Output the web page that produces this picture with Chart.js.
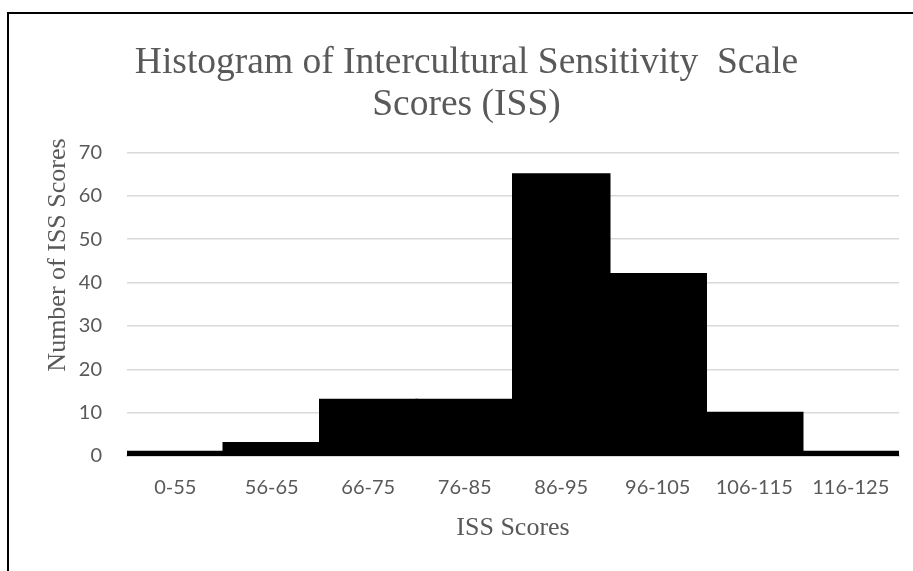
<!DOCTYPE html>
<html>
<head>
<meta charset="utf-8">
<script src="https://cdn.jsdelivr.net/npm/chart.js@4/dist/chart.umd.min.js"></script>
<style>
  body { margin: 0; background: #fff; overflow: hidden; }
  #frame {
    position: absolute; left: 7px; top: 12px; right: 0; bottom: 0;
    border-left: 2px solid #000; border-top: 2px solid #000;
  }
  #wrap { position: absolute; left: 0; top: 0; width: 913px; height: 571px; }
</style>
</head>
<body>
<div id="frame"></div>
<div id="wrap"><canvas id="issChart"></canvas></div>
<script>
// bins and counts
let scoreBins = ["0-55", "56-65", "66-75", "76-85", "86-95", "96-105", "106-115", "116-125"];
let binCounts = [1, 3, 13, 13, 65, 42, 10, 1];
let yTicks = [0, 10, 20, 30, 40, 50, 60, 70];

let yTitle = "Number of ISS Scores";
let grey = "#595959";
let serif = "'Liberation Serif', 'Times New Roman', serif";
let sans = "Lato, Calibri, 'Open Sans', sans-serif";

/* y axis title sits off-centre in the original, so draw it by hand */
let yTitlePlugin = {
    id: "yTitle",
    afterDraw(chart) {
        let c = chart.ctx;
        c.save();
        c.translate(65, 255);
        c.rotate(-Math.PI / 2);
        c.font = "26px " + serif;
        c.fillStyle = grey;
        c.textAlign = "center";
        c.textBaseline = "alphabetic";
        c.fillText(yTitle, 0, 0);
        c.restore();
    }
};

let ctx = document.getElementById("issChart").getContext("2d");

let chart = new Chart(ctx, {
    type: "bar",
    data: {
        labels: scoreBins,
        datasets: [{
            data: binCounts,
            backgroundColor: "#000",
            borderWidth: 0,
            inflateAmount: 1,
            barPercentage: 1,
            categoryPercentage: 1
        }]
    },
    options: {
        responsive: true,
        maintainAspectRatio: false,
        animation: false,
        layout: { padding: { left: 34, right: 14, top: 0, bottom: 0 } },
        plugins: {
            legend: { display: false },
            tooltip: { enabled: false },
            title: {
                display: true,
                text: ["Histogram of Intercultural Sensitivity  Scale", "Scores (ISS)"],
                color: grey,
                font: { family: serif, size: 37.5, weight: "normal", lineHeight: 1.1 },
                padding: { top: 43, bottom: 27 }
            }
        },
        scales: {
            x: {
                afterFit: axis => { axis.height = 115; },
                grid: { display: false, drawTicks: false },
                border: { color: "#d9d9d9", width: 2 },
                ticks: { color: grey, font: { family: sans, size: 20 }, padding: 20 },
                title: {
                    display: true,
                    text: "ISS Scores",
                    color: grey,
                    font: { family: serif, size: 26 },
                    padding: { top: 0, bottom: 27 }
                }
            },
            y: {
                min: 0,
                max: 70,
                afterFit: axis => { axis.width = 93; },
                afterBuildTicks: axis => { axis.ticks = yTicks.map(v => ({ value: v })); },
                grid: { color: "#d9d9d9", lineWidth: 1.5, drawTicks: false },
                border: { display: false },
                ticks: { color: grey, font: { family: sans, size: 20 }, padding: 25 }
            }
        }
    },
    plugins: [yTitlePlugin]
});
</script>
</body>
</html>
